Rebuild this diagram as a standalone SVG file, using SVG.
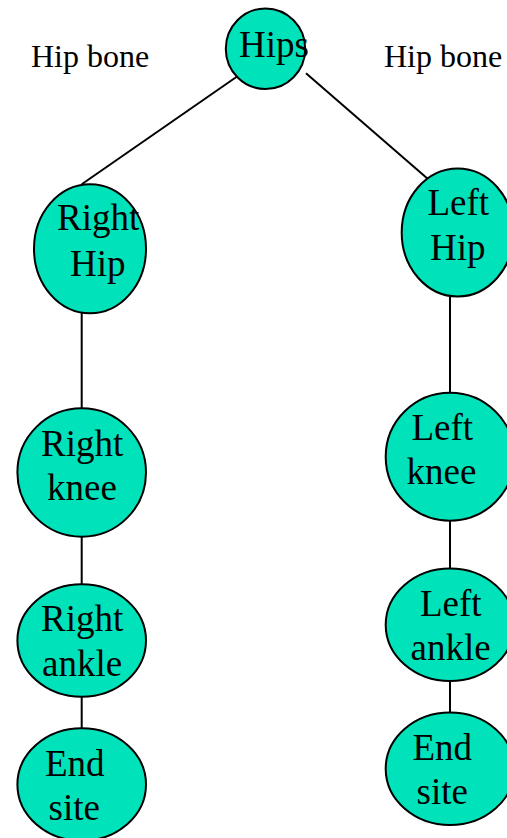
<svg xmlns="http://www.w3.org/2000/svg" width="507" height="838" viewBox="0 0 507 838">
  <style>
    .joint { fill: #00E3BA; stroke: #000; stroke-width: 2; }
    .bone { stroke: #000; stroke-width: 2; fill: none; }
    .lbl { font-family: "Liberation Serif", "Times New Roman", serif; font-size: 37px; fill: #000; }
    .note { font-family: "Liberation Serif", "Times New Roman", serif; font-size: 32px; fill: #000; }
  </style>

  <!-- skeleton hierarchy links -->
  <g id="connectors">
    <line class="bone" x1="240.7" y1="74" x2="81.7" y2="184.3"/>
    <line class="bone" x1="306" y1="73.3" x2="434" y2="184.3"/>
    <line class="bone" x1="81.7" y1="313" x2="81.7" y2="408.3"/>
    <line class="bone" x1="81.7" y1="536.7" x2="81.7" y2="584.3"/>
    <line class="bone" x1="81.7" y1="696.7" x2="81.7" y2="728.3"/>
    <line class="bone" x1="450" y1="296.7" x2="450" y2="392.7"/>
    <line class="bone" x1="450" y1="520.7" x2="450" y2="568.3"/>
    <line class="bone" x1="450" y1="681" x2="450" y2="712.7"/>
  </g>

  <g id="label-hip-bone-left">
    <text class="note" x="31" y="66.7">Hip bone</text>
  </g>
  <g id="label-hip-bone-right">
    <text class="note" x="384" y="66.7">Hip bone</text>
  </g>

  <g id="hips">
    <ellipse class="joint" cx="265.5" cy="48.7" rx="39.7" ry="40.3"/>
    <text class="lbl" x="239" y="56.7">Hips</text>
  </g>

  <g id="right-hip">
    <ellipse class="joint" cx="90" cy="248.8" rx="56" ry="64.5"/>
    <text class="lbl" x="57" y="230">Right</text>
    <text class="lbl" x="70" y="276">Hip</text>
  </g>

  <g id="left-hip">
    <ellipse class="joint" cx="457.7" cy="232.5" rx="56" ry="64"/>
    <text class="lbl" x="427.5" y="215">Left</text>
    <text class="lbl" x="430" y="260">Hip</text>
  </g>

  <g id="right-knee">
    <ellipse class="joint" cx="81.7" cy="472.5" rx="64.3" ry="64.2"/>
    <text class="lbl" x="41" y="455.7">Right</text>
    <text class="lbl" x="47" y="500">knee</text>
  </g>

  <g id="left-knee">
    <ellipse class="joint" cx="450" cy="456.7" rx="64.3" ry="64"/>
    <text class="lbl" x="411.5" y="440">Left</text>
    <text class="lbl" x="406.5" y="484.3">knee</text>
  </g>

  <g id="right-ankle">
    <ellipse class="joint" cx="81.7" cy="640.5" rx="64.3" ry="56.2"/>
    <text class="lbl" x="41" y="630.7">Right</text>
    <text class="lbl" x="42" y="676">ankle</text>
  </g>

  <g id="left-ankle">
    <ellipse class="joint" cx="450" cy="624.7" rx="64.3" ry="56.3"/>
    <text class="lbl" x="420" y="615.7">Left</text>
    <text class="lbl" x="410.5" y="660">ankle</text>
  </g>

  <g id="right-end-site">
    <ellipse class="joint" cx="81.7" cy="784.5" rx="64.3" ry="56.2"/>
    <text class="lbl" x="45" y="775.7">End</text>
    <text class="lbl" x="48.5" y="820">site</text>
  </g>

  <g id="left-end-site">
    <ellipse class="joint" cx="450" cy="768.8" rx="64.3" ry="56.2"/>
    <text class="lbl" x="412.5" y="760">End</text>
    <text class="lbl" x="416.5" y="804">site</text>
  </g>
</svg>
